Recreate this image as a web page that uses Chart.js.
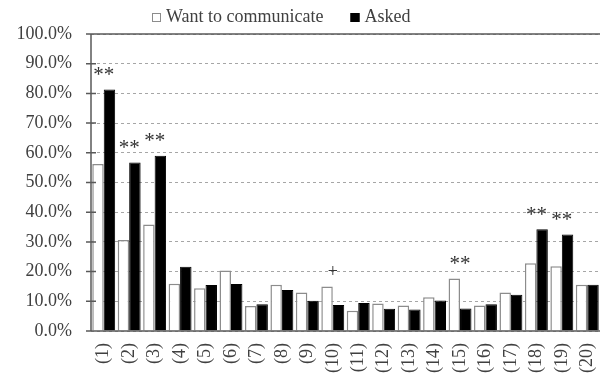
<!DOCTYPE html>
<html>
<head>
<meta charset="utf-8">
<script src="https://cdn.jsdelivr.net/npm/chart.js@4"></script>
<style>
  body { margin: 0; background: #fff; }
  #wrap { width: 600px; height: 377px; }
</style>
</head>
<body>
<div id="wrap"><canvas id="barChart"></canvas></div>
<script>
// données (en %)
var categories = ['(1)', '(2)', '(3)', '(4)', '(5)', '(6)', '(7)', '(8)', '(9)', '(10)',
                  '(11)', '(12)', '(13)', '(14)', '(15)', '(16)', '(17)', '(18)', '(19)', '(20)'];
var wantValues = [56.2, 30.6, 35.9, 15.9, 14.4, 20.4, 8.4, 15.6, 13.0, 15.0,
                  6.8, 9.3, 8.6, 11.4, 17.7, 8.6, 13.0, 22.8, 21.8, 15.6];
var askedValues = [81.3, 56.7, 59.0, 21.6, 15.5, 15.8, 9.0, 13.8, 10.2, 8.75,
                   9.4, 7.5, 7.2, 10.3, 7.6, 9.0, 12.2, 34.3, 32.5, 15.6];
var marks = ['**', '**', '**', '', '', '', '', '', '', '+',
             '', '', '', '', '**', '', '', '**', '**', ''];

var serif = "'Liberation Serif', 'Times New Roman', serif";
var textColor = '#404040';

// légende, axes et astérisques dessinés à la main
var extras = {
    id: 'extras',
    afterDatasetsDraw: function(chart) {
        var c = chart.ctx, a = chart.chartArea;
        var x = chart.scales.x, y = chart.scales.y;
        c.save();
        c.strokeStyle = '#595959';
        c.lineWidth = 1.5;
        c.beginPath();
        c.moveTo(a.left, a.top); c.lineTo(a.right, a.top);
        c.moveTo(a.left, a.bottom); c.lineTo(a.right, a.bottom);
        c.moveTo(a.left, a.top); c.lineTo(a.left, a.bottom);
        y.ticks.forEach(function(t) {
            var py = y.getPixelForValue(t.value);
            c.moveTo(a.left - 5, py); c.lineTo(a.left + 5, py);
        });
        c.stroke();

        c.fillStyle = '#333';
        c.textAlign = 'center';
        c.textBaseline = 'middle';
        marks.forEach(function(m, i) {
            if (!m) return;
            var top = Math.max(wantValues[i], askedValues[i]);
            c.font = (m === '+' ? '18px ' : '21px ') + serif;
            c.fillText(m, x.getPixelForValue(i), y.getPixelForValue(top) - 14);
        });

        // légende
        var ds = chart.data.datasets;
        var lx = 152;
        c.textAlign = 'left';
        c.font = '18px ' + serif;
        ds.forEach(function(d) {
            c.fillStyle = d.backgroundColor;
            c.strokeStyle = d.borderColor;
            c.lineWidth = 1;
            c.fillRect(lx, 13, 9, 9);
            c.strokeRect(lx + 0.5, 13.5, 8, 8);
            c.fillStyle = textColor;
            c.fillText(d.label, lx + 14, 17);
            lx += 14 + c.measureText(d.label).width + 27;
        });
        c.restore();
    }
};

var ctx = document.getElementById('barChart').getContext('2d');
var barChart = new Chart(ctx, {
    type: 'bar',
    data: {
        labels: categories,
        datasets: [{
            label: 'Want to communicate',
            data: wantValues,
            backgroundColor: '#ffffff',
            borderColor: '#8c8c8c',
            borderWidth: 1.5
        }, {
            label: 'Asked',
            data: askedValues,
            backgroundColor: '#000000',
            borderColor: '#000000',
            borderWidth: 1
        }]
    },
    options: {
        responsive: true,
        maintainAspectRatio: false,
        animation: false,
        layout: { padding: { top: 34, right: 0, left: 0, bottom: 0 } },
        datasets: { bar: { categoryPercentage: 0.9, barPercentage: 1.0 } },
        plugins: {
            legend: { display: false },
            tooltip: { enabled: false }
        },
        scales: {
            x: {
                grid: { display: false, drawTicks: false },
                border: { display: false },
                ticks: {
                    minRotation: 90, maxRotation: 90,
                    padding: 12,
                    color: textColor,
                    font: { family: serif, size: 18 }
                },
                afterFit: function(s) {
                    s.height = 46;
                    s.paddingRight = 0;
                    s.paddingLeft = 0;
                }
            },
            y: {
                min: 0, max: 100,
                grid: { color: '#a6a6a6', drawTicks: false, lineWidth: 1 },
                border: { display: false, dash: [3, 3] },
                ticks: {
                    stepSize: 10,
                    padding: 19,
                    color: textColor,
                    font: { family: serif, size: 18 },
                    callback: function(v) { return v.toFixed(1) + '%'; }
                },
                afterFit: function(s) { s.width = 91; }
            }
        }
    },
    plugins: [extras]
});
</script>
</body>
</html>
